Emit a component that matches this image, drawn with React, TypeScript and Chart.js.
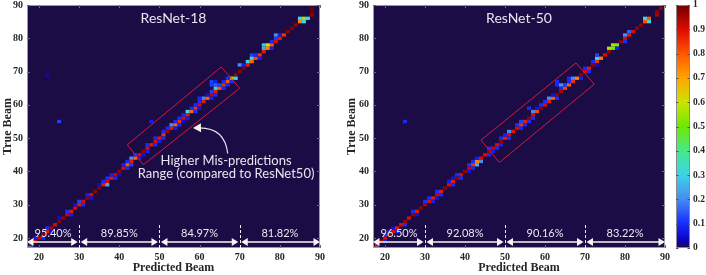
import React, { useEffect, useRef } from 'react';
import { Chart, registerables } from 'chart.js';

Chart.register(...registerables);

// ---------------- DATA ----------------
const beamIds = [
  17, 18, 19, 20, 21, 22, 23, 24, 25, 26,
  27, 28, 29, 30, 31, 32, 33, 34, 35, 36,
  37, 38, 39, 40, 41, 42, 43, 44, 45, 46,
  47, 48, 49, 50, 51, 52, 53, 54, 55, 56,
  57, 58, 59, 60, 61, 62, 63, 64, 65, 66,
  67, 68, 69, 70, 71, 72, 73, 74, 75, 76,
  77, 78, 79, 80, 81, 82, 83, 84, 85, 86,
  87, 88, 89, 90,
];
const beamTicks = [20, 30, 40, 50, 60, 70, 80, 90];
const colorbarTicks = [0, 0.1, 0.2, 0.3, 0.4, 0.5, 0.6, 0.7, 0.8, 0.9, 1];

// diagonal value (predicted == true) for each beam in beamIds
const resnet18Diagonal = [
  0.25, 0.95, 0.9, 0.92, 0.97, 0.88, 0.95, 0.9, 0.98, 0.97,
  0.92, 0.88, 0.9, 0.88, 0.9, 0.97, 0.9, 0.97, 0.98, 0.88,
  0.9, 0.88, 0.92, 0.97, 0.9, 0.8, 0.88, 0.78, 0.9, 0.97,
  0.9, 0.88, 0.9, 0.88, 0.85, 0.95, 0.88, 0.78, 0.85, 0.9,
  0.88, 0.78, 0.85, 0.9, 0.88, 0.78, 0.92, 0.88, 0.8, 0.85,
  0.8, 0.65, 0.97, 0.97, 0.98, 0.88, 0.78, 0.82, 0.85, 0.88,
  0.75, 0.8, 0.9, 0.88, 0.85, 0.97, 0.98, 0.97, 0.75, 0.55,
  0, 1, 0, 0,
];
const resnet50Diagonal = [
  0.85, 0.9, 0.95, 0.9, 0.97, 0.9, 0.88, 0.9, 0.97, 0.9,
  0.97, 0.88, 0.97, 0.95, 0.9, 0.88, 0.92, 0.88, 0.97, 0.9,
  0.88, 0.97, 0.9, 0.97, 0.92, 0.85, 0.75, 0.9, 0.9, 0.97,
  0.92, 0.9, 0.97, 0.88, 0.9, 0.88, 0.9, 0.85, 0.88, 0.97,
  0.9, 0.82, 0.97, 0.9, 0.88, 0.8, 0.97, 0.95, 0.82, 0.8,
  0.85, 0.75, 0.97, 0.9, 0.88, 0.97, 0.85, 0.75, 0.9, 0.97,
  0.5, 0.52, 0.97, 0.9, 0.88, 0.9, 0.97, 0.97, 0.8, 0.8,
  0, 0.97, 0.97, 0,
];

// off-diagonal cells: [predicted beam, true beam, value]
const resnet18OffDiagonal: [number, number, number][] = [
  [18, 17, 0.2], [19, 20, 0.08], [21, 20, 0.1], [22, 23, 0.1], [23, 22, 0.06], [25, 26, 0.05],
  [27, 28, 0.1], [28, 27, 0.08], [29, 30, 0.06], [30, 31, 0.12], [31, 30, 0.1], [32, 33, 0.08],
  [33, 32, 0.06], [35, 36, 0.05], [37, 36, 0.25], [36, 37, 0.1], [37, 38, 0.1], [39, 38, 0.1],
  [38, 39, 0.08], [40, 39, 0.05], [42, 41, 0.1], [41, 42, 0.08], [43, 42, 0.12], [42, 43, 0.1],
  [43, 44, 0.2], [45, 44, 0.08], [44, 45, 0.1], [46, 45, 0.06], [47, 46, 0.08],
  [47, 48, 0.1], [49, 48, 0.1], [50, 49, 0.08], [49, 50, 0.1], [51, 50, 0.1], [51, 52, 0.1],
  [52, 53, 0.1], [54, 53, 0.08], [53, 54, 0.2], [55, 54, 0.1], [54, 55, 0.1], [56, 55, 0.05],
  [55, 56, 0.1], [57, 56, 0.08], [56, 57, 0.1], [57, 58, 0.3], [59, 58, 0.1], [58, 59, 0.1],
  [60, 59, 0.06], [59, 60, 0.1], [60, 61, 0.1], [61, 62, 0.2], [60, 62, 0.1], [63, 62, 0.08],
  [62, 63, 0.06], [64, 63, 0.1], [63, 64, 0.12], [64, 65, 0.3], [66, 65, 0.1], [63, 67, 0.12],
  [64, 67, 0.08], [63, 66, 0.12], [64, 66, 0.15], [65, 66, 0.12], [67, 66, 0.1], [66, 67, 0.1],
  [68, 67, 0.1], [69, 68, 0.3], [67, 68, 0.1],
  [48, 55, 0.08], [25, 55, 0.12], [22, 69, 0.04],
  [70, 72, 0.2], [71, 72, 0.08], [72, 73, 0.3], [73, 75, 0.12], [73, 74, 0.3], [74, 75, 0.1],
  [75, 74, 0.08], [76, 77, 0.25], [78, 77, 0.08], [76, 78, 0.28], [77, 78, 0.6], [78, 79, 0.1],
  [79, 80, 0.12], [79, 81, 0.2], [80, 81, 0.08],
  [85, 86, 0.3], [87, 86, 0.3], [86, 85, 0.3], [88, 87, 0.97], [88, 89, 1],
];
const resnet50OffDiagonal: [number, number, number][] = [
  [18, 17, 0.2], [20, 19, 0.1], [20, 21, 0.1], [21, 22, 0.08], [23, 22, 0.1], [22, 23, 0.06],
  [25, 24, 0.1], [27, 28, 0.1], [28, 27, 0.06], [30, 31, 0.1], [31, 32, 0.1], [32, 31, 0.08],
  [33, 32, 0.06], [33, 34, 0.1], [34, 33, 0.1], [37, 36, 0.1], [36, 37, 0.08], [38, 39, 0.1],
  [37, 38, 0.06], [39, 38, 0.1], [41, 40, 0.06], [41, 42, 0.1], [42, 41, 0.1], [43, 42, 0.25],
  [42, 43, 0.1], [44, 43, 0.2], [43, 44, 0.08], [46, 45, 0.1], [47, 46, 0.08], [46, 47, 0.1],
  [48, 47, 0.1], [49, 48, 0.08], [49, 50, 0.1], [51, 50, 0.1], [50, 51, 0.08], [51, 52, 0.2],
  [54, 53, 0.1], [53, 54, 0.1], [55, 54, 0.1], [54, 55, 0.12], [56, 55, 0.1], [57, 56, 0.1],
  [57, 58, 0.2], [56, 59, 0.1], [58, 59, 0.06], [59, 60, 0.1], [60, 61, 0.1], [61, 62, 0.2],
  [63, 62, 0.1], [62, 63, 0.06], [64, 65, 0.1], [63, 66, 0.1], [63, 67, 0.1], [64, 66, 0.2],
  [65, 66, 0.12], [66, 67, 0.1], [67, 68, 0.2], [66, 68, 0.1], [69, 68, 0.08], [70, 71, 0.1],
  [71, 70, 0.1], [73, 72, 0.05], [72, 73, 0.1], [73, 74, 0.3], [73, 75, 0.12], [76, 77, 0.55],
  [77, 78, 0.55], [78, 77, 0.08], [80, 79, 0.1], [80, 81, 0.2], [81, 82, 0.15],
  [85, 86, 0.3], [86, 85, 0.3], [88, 87, 0.95], [25, 55, 0.1],
];

const rangeBounds = [17, 30, 50, 70, 90];
const resnet18RangeAccuracy = ['95.40%', '89.85%', '84.97%', '81.82%'];
const resnet50RangeAccuracy = ['96.50%', '92.08%', '90.16%', '83.22%'];

// ---------------- STYLE ----------------
const CMAP: [number, number[]][] = [
  [0, [28, 12, 70]],
  [0.03, [12, 0, 190]],
  [0.1, [22, 44, 255]],
  [0.2, [70, 140, 242]],
  [0.3, [60, 212, 230]],
  [0.4, [72, 232, 140]],
  [0.5, [110, 232, 0]],
  [0.6, [205, 228, 0]],
  [0.7, [255, 165, 0]],
  [0.8, [255, 85, 0]],
  [0.9, [222, 10, 0]],
  [1, [112, 0, 0]],
];
function cmap(v: number): string {
  const t = Math.max(0, Math.min(1, v));
  for (let i = 1; i < CMAP.length; i++) {
    const [t1, c1] = CMAP[i];
    const [t0, c0] = CMAP[i - 1];
    if (t <= t1) {
      const f = (t - t0) / (t1 - t0);
      const c = c0.map((a, k) => Math.round(a + (c1[k] - a) * f));
      return `rgb(${c[0]},${c[1]},${c[2]})`;
    }
  }
  return 'rgb(112,0,0)';
}

const TICK_FONT = { family: 'Liberation Serif', weight: 'bold' as const, size: 10 };
const TITLE_FONT = { family: 'Liberation Serif', weight: 'bold' as const, size: 12 };
const INK = '#262626';
const SANS = 'Lato, "Open Sans", sans-serif';

// annotation geometry, in data units
const box18 = [[42, 48], [65.4, 71.4], [70, 65], [46, 42]];
const box50 = [[44, 49.4], [67.75, 72.6], [72.3, 66.2], [48.6, 42.7]];
const noteLines = ['Higher Mis-predictions', 'Range (compared to ResNet50)'];
const noteAnchor = { x: 66.6, y1: 43.1, y2: 39.2 };
const noteArrow = { start: [67, 45.4], ctrl: [66.3, 53.3], end: [59.6, 53.1] };

function buildCells(diag: number[], off: [number, number, number][]) {
  const cells = beamIds.map((b, i) => ({ x: b, y: b, v: diag[i] }));
  off.forEach(([p, t, v]) => cells.push({ x: p, y: t, v }));
  return cells.filter((c) => c.v > 0);
}

const heatmapPlugin = {
  id: 'heatmap',
  beforeDatasetsDraw(chart: any) {
    const { ctx, chartArea: a, scales } = chart;
    const xs = scales.x, ys = scales.y;
    ctx.save();
    ctx.beginPath();
    ctx.rect(a.left, a.top, a.right - a.left, a.bottom - a.top);
    ctx.clip();
    ctx.fillStyle = cmap(0);
    ctx.fillRect(a.left, a.top, a.right - a.left, a.bottom - a.top);
    chart.data.datasets[0].data.forEach((d: any) => {
      const x0 = xs.getPixelForValue(d.x - 0.5);
      const x1 = xs.getPixelForValue(d.x + 0.5);
      const y0 = ys.getPixelForValue(d.y + 0.5);
      const y1 = ys.getPixelForValue(d.y - 0.5);
      ctx.fillStyle = cmap(d.v);
      ctx.fillRect(x0, y0, x1 - x0, y1 - y0);
    });
    ctx.restore();
  },
  afterDatasetsDraw(chart: any) {
    const { ctx, chartArea: a, scales } = chart;
    const xs = scales.x, ys = scales.y;
    const o = chart.options.plugins.heatmapOverlay;
    const X = (v: number) => xs.getPixelForValue(v);
    const Y = (v: number) => ys.getPixelForValue(v);
    ctx.save();
    // frame
    ctx.strokeStyle = '#9a9aa0';
    ctx.lineWidth = 1;
    ctx.strokeRect(a.left + 0.5, a.top + 0.5, a.right - a.left - 1, a.bottom - a.top - 1);
    // inward ticks
    ctx.strokeStyle = '#6a6a78';
    ctx.beginPath();
    beamTicks.forEach((t) => {
      const px = Math.round(X(t)) + 0.5;
      ctx.moveTo(px, a.top); ctx.lineTo(px, a.top + 3);
      ctx.moveTo(px, a.bottom); ctx.lineTo(px, a.bottom - 3);
      const py = Math.round(Y(t)) + 0.5;
      ctx.moveTo(a.left, py); ctx.lineTo(a.left + 3, py);
      ctx.moveTo(a.right, py); ctx.lineTo(a.right - 3, py);
    });
    ctx.stroke();

    // highlighted region box
    ctx.save();
    ctx.beginPath();
    ctx.rect(a.left, a.top, a.right - a.left, a.bottom - a.top);
    ctx.clip();
    ctx.strokeStyle = '#d3183c';
    ctx.lineWidth = 1;
    ctx.beginPath();
    o.box.forEach((p: number[], i: number) => {
      if (i === 0) ctx.moveTo(X(p[0]), Y(p[1]));
      else ctx.lineTo(X(p[0]), Y(p[1]));
    });
    ctx.closePath();
    ctx.stroke();

    // range dividers
    ctx.strokeStyle = '#f2f2f2';
    ctx.setLineDash([3, 2]);
    ctx.beginPath();
    rangeBounds.slice(1, -1).forEach((b) => {
      const px = Math.round(X(b)) + 0.5;
      ctx.moveTo(px, Y(23.9));
      ctx.lineTo(px, a.bottom);
    });
    ctx.stroke();
    ctx.setLineDash([]);

    // double arrows + accuracy labels
    const ay = Y(18.8);
    ctx.fillStyle = '#f4f4f4';
    ctx.strokeStyle = '#f4f4f4';
    ctx.lineWidth = 1.3;
    for (let i = 0; i < rangeBounds.length - 1; i++) {
      const xa = i === 0 ? a.left : X(rangeBounds[i]) + 1.5;
      const xb = i === rangeBounds.length - 2 ? a.right : X(rangeBounds[i + 1]) - 1.5;
      ctx.beginPath();
      ctx.moveTo(xa + 5, ay); ctx.lineTo(xb - 5, ay);
      ctx.stroke();
      ctx.beginPath();
      ctx.moveTo(xa, ay); ctx.lineTo(xa + 6.5, ay - 4); ctx.lineTo(xa + 6.5, ay + 4); ctx.closePath();
      ctx.fill();
      ctx.beginPath();
      ctx.moveTo(xb, ay); ctx.lineTo(xb - 6.5, ay - 4); ctx.lineTo(xb - 6.5, ay + 4); ctx.closePath();
      ctx.fill();
      ctx.font = `11px ${SANS}`;
      ctx.textAlign = 'center';
      ctx.textBaseline = 'middle';
      ctx.fillStyle = '#e8e8ee';
      ctx.fillText(o.accuracy[i], X((rangeBounds[i] + rangeBounds[i + 1]) / 2), Y(21.5));
      ctx.fillStyle = '#f4f4f4';
    }

    // title
    ctx.fillStyle = '#e6e6ee';
    ctx.font = `14px ${SANS}`;
    ctx.textAlign = 'center';
    ctx.textBaseline = 'middle';
    ctx.fillText(o.title, (a.left + a.right) / 2, a.top + 13);

    // note
    if (o.note) {
      ctx.font = `13px ${SANS}`;
      ctx.fillStyle = '#e6e6ee';
      ctx.fillText(noteLines[0], X(noteAnchor.x), Y(noteAnchor.y1));
      ctx.fillText(noteLines[1], X(noteAnchor.x), Y(noteAnchor.y2));
      const s = noteArrow.start, c = noteArrow.ctrl, e = noteArrow.end;
      ctx.strokeStyle = '#e6e6ee';
      ctx.lineWidth = 1.2;
      ctx.beginPath();
      ctx.moveTo(X(s[0]), Y(s[1]));
      ctx.quadraticCurveTo(X(c[0]), Y(c[1]), X(e[0]), Y(e[1]));
      ctx.stroke();
      const ex = X(e[0]), ey = Y(e[1]);
      const ang = Math.atan2(ey - Y(c[1]), ex - X(c[0]));
      const L = 8, W = 4.5;
      const tx = ex + Math.cos(ang) * 5, ty = ey + Math.sin(ang) * 5;
      ctx.fillStyle = '#f4f4f4';
      ctx.beginPath();
      ctx.moveTo(tx, ty);
      ctx.lineTo(tx - Math.cos(ang) * L - Math.sin(ang) * W, ty - Math.sin(ang) * L + Math.cos(ang) * W);
      ctx.lineTo(tx - Math.cos(ang) * L + Math.sin(ang) * W, ty - Math.sin(ang) * L - Math.cos(ang) * W);
      ctx.closePath();
      ctx.fill();
    }
    ctx.restore();
    ctx.restore();
  },
};

const colorbarPlugin = {
  id: 'colorbar',
  beforeDatasetsDraw(chart: any) {
    const { ctx, chartArea: a, scales } = chart;
    const ys = scales.y;
    const g = ctx.createLinearGradient(0, ys.getPixelForValue(0), 0, ys.getPixelForValue(1));
    for (let i = 0; i <= 100; i++) g.addColorStop(i / 100, cmap(i / 100));
    ctx.save();
    ctx.fillStyle = g;
    ctx.fillRect(a.left, a.top, a.right - a.left, a.bottom - a.top);
    ctx.strokeStyle = '#8a8a90';
    ctx.lineWidth = 1;
    ctx.strokeRect(a.left + 0.5, a.top + 0.5, a.right - a.left - 1, a.bottom - a.top - 1);
    ctx.strokeStyle = '#555';
    ctx.beginPath();
    colorbarTicks.forEach((t) => {
      const py = Math.round(ys.getPixelForValue(t)) + 0.5;
      ctx.moveTo(a.right, py); ctx.lineTo(a.right - 2.5, py);
      ctx.moveTo(a.left, py); ctx.lineTo(a.left + 2.5, py);
    });
    ctx.stroke();
    ctx.restore();
  },
};

function fixAxis(size: number, horizontal: boolean) {
  return (s: any) => {
    if (horizontal) s.height = size; else s.width = size;
    s.paddingTop = 0; s.paddingBottom = 0; s.paddingLeft = 0; s.paddingRight = 0;
  };
}

function heatmapConfig(diag: number[], off: [number, number, number][], opts: any): any {
  return {
    type: 'scatter',
    data: { datasets: [{ data: buildCells(diag, off), pointRadius: 0, pointHoverRadius: 0 }] },
    plugins: [heatmapPlugin],
    options: {
      responsive: false,
      animation: false,
      events: [],
      layout: { padding: { top: 5, right: opts.padRight, left: 0, bottom: 0 } },
      plugins: {
        legend: { display: false },
        tooltip: { enabled: false },
        heatmapOverlay: opts,
      },
      scales: {
        x: {
          type: 'linear', min: 17, max: 90,
          afterBuildTicks: (s: any) => { s.ticks = beamTicks.map((v) => ({ value: v })); },
          afterFit: fixAxis(27, true),
          grid: { display: false, drawTicks: false },
          border: { display: false },
          ticks: { padding: 3, font: TICK_FONT, color: INK, maxRotation: 0, autoSkip: false },
          title: { display: true, text: 'Predicted Beam', font: TITLE_FONT, color: INK, padding: { top: 0, bottom: 0 } },
        },
        y: {
          type: 'linear', min: 17, max: 90,
          afterBuildTicks: (s: any) => { s.ticks = beamTicks.map((v) => ({ value: v })); },
          afterFit: fixAxis(opts.yWidth, false),
          grid: { display: false, drawTicks: false },
          border: { display: false },
          ticks: { padding: 4, font: TICK_FONT, color: INK, autoSkip: false },
          title: { display: true, text: 'True Beam', font: TITLE_FONT, color: INK, padding: { top: opts.yTitlePad, bottom: 0 } },
        },
      },
    },
  };
}

function colorbarConfig(): any {
  return {
    type: 'scatter',
    data: { datasets: [{ data: [], pointRadius: 0 }] },
    plugins: [colorbarPlugin],
    options: {
      responsive: false,
      animation: false,
      events: [],
      layout: { padding: { top: 5, right: 0, left: 6, bottom: 27 } },
      plugins: { legend: { display: false }, tooltip: { enabled: false } },
      scales: {
        x: { display: false, min: 0, max: 1 },
        y: {
          type: 'linear', position: 'right', min: 0, max: 1,
          afterBuildTicks: (s: any) => { s.ticks = colorbarTicks.map((v) => ({ value: v })); },
          afterFit: fixAxis(16, false),
          grid: { display: false, drawTicks: false },
          border: { display: false },
          ticks: {
            padding: 3, font: { ...TICK_FONT, size: 9.5 }, color: INK, autoSkip: false,
            callback: (v: number) => String(Math.round(v * 10) / 10),
          },
        },
      },
    },
  };
}

function ChartCanvas({ left, width, height, make }: { left: number; width: number; height: number; make: () => any }) {
  const ref = useRef<HTMLCanvasElement>(null);
  useEffect(() => {
    const chart = new Chart(ref.current as HTMLCanvasElement, make());
    return () => chart.destroy();
  }, []);
  return (
    <canvas
      ref={ref}
      width={width}
      height={height}
      style={{ position: 'absolute', left, top: 0, width, height }}
    />
  );
}

export default function App() {
  return (
    <div style={{ position: 'absolute', left: 0, top: 0, width: 706, height: 275, background: '#fff', overflow: 'hidden' }}>
      <ChartCanvas
        left={0}
        width={340}
        height={275}
        make={() =>
          heatmapConfig(resnet18Diagonal, resnet18OffDiagonal, {
            title: 'ResNet-18', accuracy: resnet18RangeAccuracy, box: box18, note: true,
            padRight: 20, yWidth: 27, yTitlePad: 1,
          })
        }
      />
      <ChartCanvas
        left={340}
        width={340}
        height={275}
        make={() =>
          heatmapConfig(resnet50Diagonal, resnet50OffDiagonal, {
            title: 'ResNet-50', accuracy: resnet50RangeAccuracy, box: box50, note: false,
            padRight: 15, yWidth: 33, yTitlePad: 5,
          })
        }
      />
      <ChartCanvas left={670} width={36} height={275} make={colorbarConfig} />
    </div>
  );
}
